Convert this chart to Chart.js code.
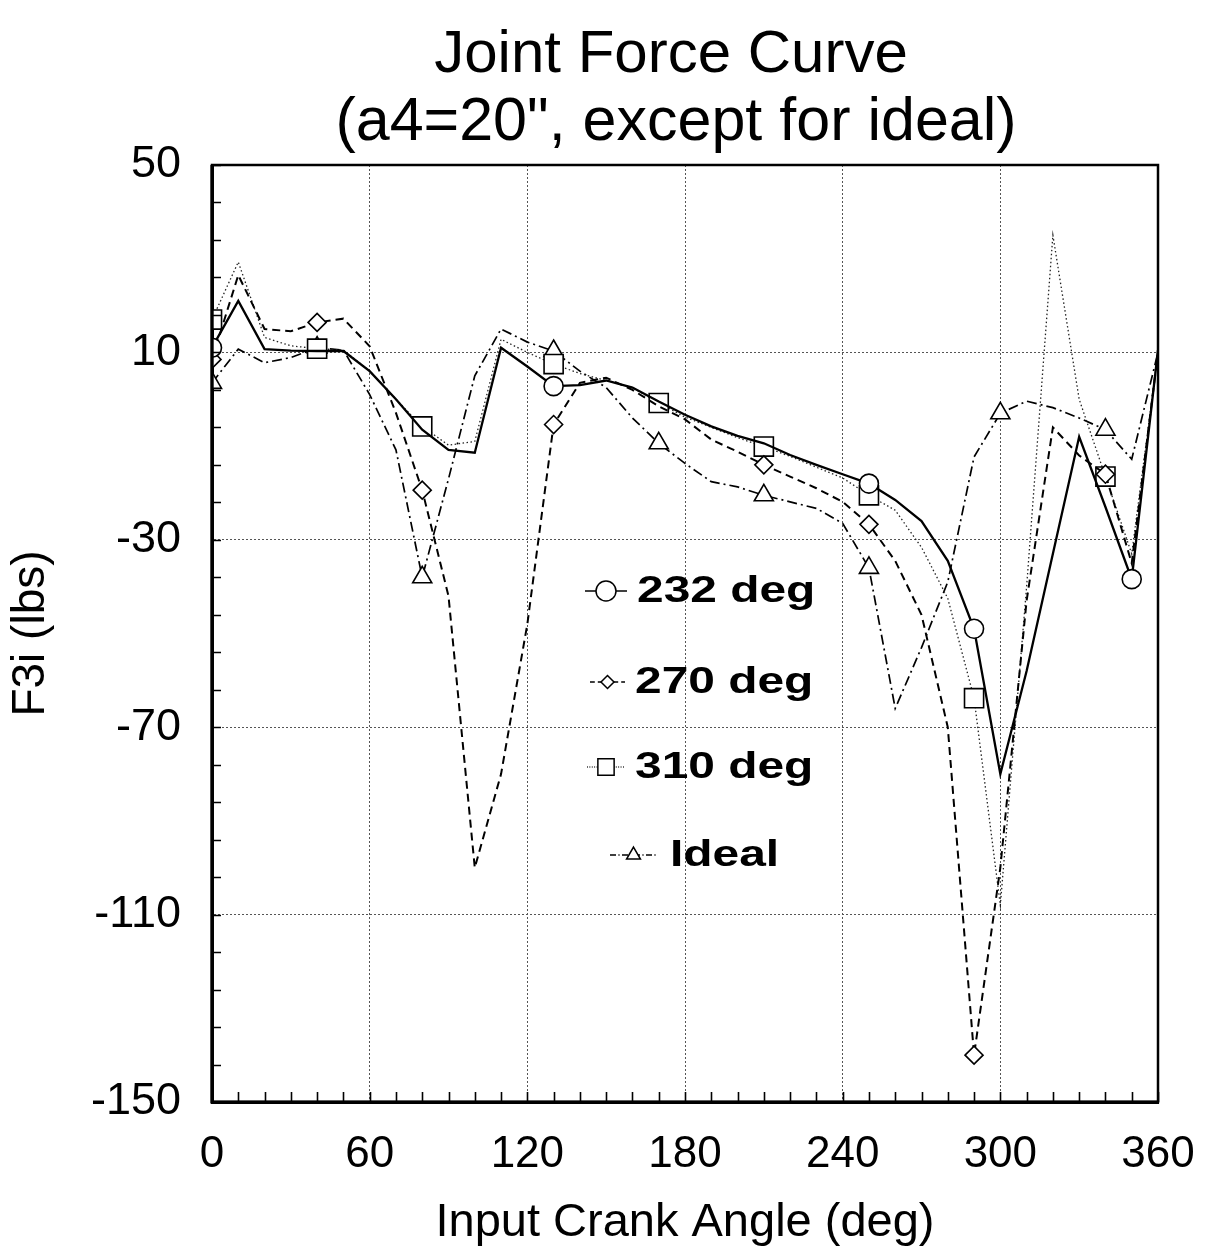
<!DOCTYPE html>
<html><head><meta charset="utf-8">
<script src="https://cdn.jsdelivr.net/npm/chart.js@4/dist/chart.umd.min.js"></script>
<style>html,body{margin:0;padding:0;background:#fff}canvas{display:block}</style>
</head><body>
<canvas id="c" width="1212" height="1258"></canvas>
<script>
// ---- data ----
const angles = [0,10,20,30,40,50,60,70,80,90,100,110,120,130,140,150,160,170,180,190,200,210,220,230,240,250,260,270,280,290,300,310,320,330,340,350,360];
const f232   = [11,21,10.7,10.4,10.3,10.3,6,0,-6.5,-10.8,-11.4,11,7,2.8,3.0,4.0,2.5,-0.5,-3.3,-5.8,-7.8,-9.4,-11.9,-14,-16,-18,-21.5,-26,-34.5,-49,-80,-58,-33,-8,-23,-38.4,10.5];
const f270   = [8.5,26.5,15,14.5,16.4,17.2,11.3,-2.9,-19.4,-42,-100,-80,-48,-5.4,3.5,4.6,2.0,-1.5,-4.3,-8.6,-11.2,-14,-16.5,-19,-21.9,-26.7,-34.5,-46,-70,-140,-100,-43,-6,-12,-16,-35,10];
const f310   = [17,29.3,13.2,11.4,10.8,10.5,6,0,-5.8,-9.8,-9,12.8,10,7.5,5.5,4.0,2.5,-0.8,-3.8,-6,-8.2,-10.1,-12.2,-14.5,-16.8,-20.5,-23.7,-31.6,-42.5,-63.8,-108,-40,35,0,-16.5,-33,10];
const fIdeal = [3.5,10.7,7.8,8.9,11,10.5,1,-10.8,-38,-17,5,15,12.2,10.3,6,2.5,-4,-9.4,-13.7,-17.6,-18.7,-20.5,-21.9,-23.3,-26.5,-36,-66,-53,-39,-12.3,-3,-0.4,-1.8,-4,-6.5,-12.8,10];
const seriesNames = ['232 deg','270 deg','310 deg','Ideal'];
// angles at which a marker symbol is shown
const m232   = [0,130,250,290,350];
const m270   = [0,40,80,130,210,250,290,340];
const m310   = [0,40,80,130,170,210,250,290,340];
const mIdeal = [0,40,80,130,170,210,250,300,340];
const xTicks = [0,60,120,180,240,300,360];
const yTicks = [-150,-110,-70,-30,10,50];
const titleLines = ['Joint Force Curve', '(a4=20", except for ideal)'];
const xTitle = 'Input Crank Angle (deg)';
const yTitle = 'F3i (lbs)';

// ---- styling ----
const FONT = '"Liberation Sans", Arial, Helvetica, sans-serif';
const styles = [
  {dash:[], width:2.3, color:'#000', pointStyle:'circle', r:9.5, lr:10},
  {dash:[8,5], width:2.0, color:'#000', pointStyle:'rectRot', r:9, lr:6.5},
  {dash:[1.5,2.5], width:1.3, color:'#222', pointStyle:'rect', r:13.5, lr:11.5},
  {dash:[10,4,2,4], width:1.7, color:'#000', pointStyle:'triangle', r:11, lr:8}
];
const values = [f232, f270, f310, fIdeal];
const markers = [m232, m270, m310, mIdeal];

const datasets = values.map((vals, k) => ({
  label: seriesNames[k],
  data: angles.map((a, i) => ({x: a, y: vals[i]})),
  showLine: true, fill: false, tension: 0,
  borderColor: styles[k].color, borderWidth: styles[k].width, borderDash: styles[k].dash,
  pointStyle: styles[k].pointStyle,
  pointRadius: c => markers[k].includes(angles[c.dataIndex]) ? styles[k].r : 0,
  pointHoverRadius: 0,
  pointBackgroundColor: '#fff', pointBorderColor: '#000', pointBorderWidth: 1.6
}));

const legendLayout = [
  {y:591, x0:585, x1:627, tx:637},
  {y:682, x0:590, x1:625, tx:635},
  {y:767, x0:587, x1:625, tx:635},
  {y:855, x0:610, x1:657, tx:670}
];

const deco = {
  id: 'deco',
  afterDraw(chart) {
    const {ctx, chartArea: a, scales: {x, y}} = chart;
    ctx.save();
    // inward minor ticks
    ctx.strokeStyle = '#000'; ctx.lineWidth = 1.6; ctx.setLineDash([]);
    ctx.beginPath();
    for (let v = -150; v <= 50; v += 8) { const p = Math.round(y.getPixelForValue(v)) + 0.5; ctx.moveTo(a.left, p); ctx.lineTo(a.left + 9, p); }
    for (let v = 0; v <= 360; v += 10) { const p = Math.round(x.getPixelForValue(v)) + 0.5; ctx.moveTo(p, a.bottom); ctx.lineTo(p, a.bottom - 10); }
    ctx.stroke();
    // frame
    ctx.lineWidth = 2.5; ctx.strokeRect(a.left, a.top, a.right - a.left, a.bottom - a.top);
    ctx.lineWidth = 3.2;
    ctx.beginPath(); ctx.moveTo(a.left, a.top); ctx.lineTo(a.left, a.bottom); ctx.lineTo(a.right, a.bottom); ctx.stroke();
    // title
    ctx.fillStyle = '#000'; ctx.textAlign = 'center'; ctx.textBaseline = 'alphabetic';
    ctx.font = '60px ' + FONT;
    ctx.fillText(titleLines[0], 671, 72);
    ctx.font = '61px ' + FONT;
    ctx.fillText(titleLines[1], 676, 140);
    // legend
    legendLayout.forEach((L, k) => {
      const s = styles[k];
      ctx.save();
      ctx.strokeStyle = s.color; ctx.lineWidth = Math.min(s.width, 1.6); ctx.setLineDash(s.dash.length ? s.dash.map(d => d * 0.6) : []);
      ctx.beginPath(); ctx.moveTo(L.x0, L.y); ctx.lineTo(L.x1, L.y); ctx.stroke();
      ctx.setLineDash([]);
      ctx.fillStyle = '#fff'; ctx.strokeStyle = '#000'; ctx.lineWidth = 1.5;
      Chart.helpers.drawPoint(ctx, {pointStyle: s.pointStyle, radius: s.lr, borderWidth: 1.5, rotation: 0}, (L.x0 + L.x1) / 2, L.y);
      ctx.restore();
      ctx.save();
      ctx.fillStyle = '#000'; ctx.font = 'bold 36px ' + FONT; ctx.textAlign = 'left'; ctx.textBaseline = 'middle';
      ctx.translate(L.tx, L.y); ctx.scale(1.33, 1);
      ctx.fillText(seriesNames[k], 0, 1);
      ctx.restore();
    });
    ctx.restore();
  }
};

new Chart(document.getElementById('c'), {
  type: 'scatter',
  data: {datasets},
  options: {
    responsive: false, animation: false, events: [],
    layout: {padding: {top: 165, right: 54, bottom: 3, left: 0}},
    plugins: {legend: {display: false}, title: {display: false}, tooltip: {enabled: false}},
    scales: {
      x: {
        type: 'linear', min: xTicks[0], max: xTicks[xTicks.length - 1],
        afterBuildTicks: s => { s.ticks = xTicks.map(v => ({value: v})); },
        ticks: {font: {size: 44, family: FONT}, color: '#000', padding: 26, maxRotation: 0, autoSkip: false},
        grid: {color: '#555', lineWidth: 1, drawTicks: false},
        border: {display: true, color: '#000', width: 3, dash: [2, 2]},
        title: {display: true, text: xTitle, font: {size: 47, family: FONT}, color: '#000', padding: {top: 4, bottom: 4}},
        afterFit: s => { s.height = 1258 - 3 - 1102; s.paddingLeft = 0; s.paddingRight = 0; }
      },
      y: {
        type: 'linear', min: yTicks[0], max: yTicks[yTicks.length - 1],
        afterBuildTicks: s => { s.ticks = yTicks.map(v => ({value: v})); },
        ticks: {font: {size: 45, family: FONT}, color: '#000', padding: 31, autoSkip: false},
        grid: {color: '#555', lineWidth: 1, drawTicks: false},
        border: {display: true, color: '#000', width: 3, dash: [2, 2]},
        title: {display: true, text: yTitle, font: {size: 46, family: FONT}, color: '#000', padding: {top: 4, bottom: 4}},
        afterFit: s => { s.width = 212; s.paddingTop = 0; s.paddingBottom = 0; }
      }
    }
  },
  plugins: [deco]
});
</script>
</body></html>
